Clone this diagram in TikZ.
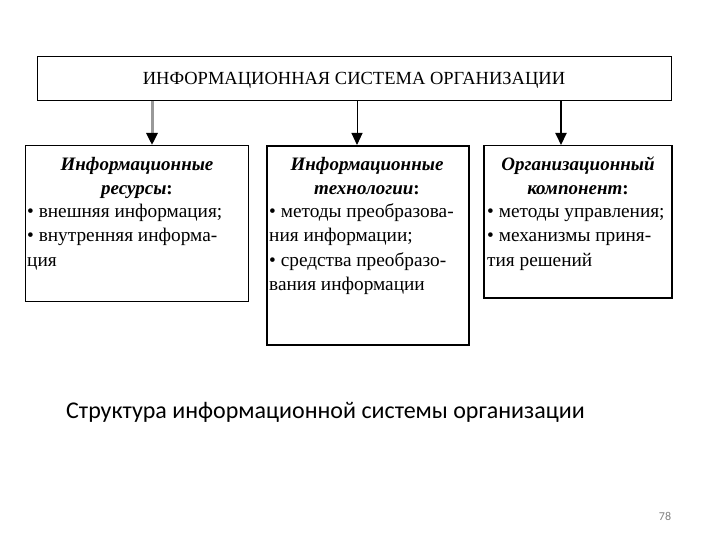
\documentclass[tikz,border=0pt]{standalone}
\usepackage{fontspec}
\setmainfont{Liberation Serif}
\newfontfamily\capfont{Carlito}
\usetikzlibrary{arrows.meta}
\newcommand\topstrut{\rule{0pt}{15pt}}
\begin{document}
\begin{tikzpicture}[x=1pt,y=-1pt,
  boxframe/.style={draw=black, line width=1pt},
  ttl/.style={font=\fontsize{19}{24}\selectfont\bfseries\itshape, align=center, inner sep=0pt, anchor=north},
  body/.style={font=\fontsize{19.3}{24.5}\selectfont, align=left, inner sep=0pt, anchor=north west},
  arr/.style={-{Triangle[width=11pt,length=12pt,color=black]}}
]
\useasboundingbox (0,0) rectangle (720,540);
% top box
\node[boxframe, minimum width=634pt, minimum height=44pt, inner sep=0pt] (top) at (354,79) {};
\node[font=\fontsize{18.5}{20}\selectfont, inner sep=0pt, anchor=base] (toptxt) at (354,85) {ИНФОРМАЦИОННАЯ СИСТЕМА ОРГАНИЗАЦИИ};
% box 1
\node[boxframe, minimum width=223pt, minimum height=156pt, inner sep=0pt, anchor=north west] (b1) at (25,145) {};
\node[ttl] (t1) at (137,155) {\topstrut Информационные\\ресурсы\textup{:}};
\node[body] (x1) at (27,202) {\topstrut• внешняя информация;\\• внутренняя информа-\\ция};
% box 2
\node[draw=black, line width=2pt, minimum width=202pt, minimum height=199pt, inner sep=0pt, anchor=north west] (b2) at (266,145) {};
\node[ttl] (t2) at (367,155) {\topstrut Информационные\\технологии\textup{:}};
\node[body] (x2) at (269,202) {\topstrut• методы преобразова-\\ния информации;\\• средства преобразо-\\вания информации};
% box 3
\node[draw=black, line width=1.5pt, minimum width=188pt, minimum height=152pt, inner sep=0pt, anchor=north west] (b3) at (483,145) {};
\node[ttl] (t3) at (578,155) {\topstrut Организационный\\компонент\textup{:}};
\node[body] (x3) at (487,202) {\topstrut• методы управления;\\• механизмы приня-\\тия решений};
% arrows
\coordinate (a1s) at (152,101);
\coordinate (a2s) at (357,101);
\coordinate (a3s) at (561,101);
\draw[arr, draw=gray!80, line width=3pt] (a1s) -- (a1s |- b1.north);
\draw[arr, line width=1pt] (a2s) -- (a2s |- b2.north);
\draw[arr, line width=2pt] (a3s) -- (a3s |- b3.north);
% caption
\node[font=\capfont\fontsize{24}{28}\selectfont, anchor=base west, inner sep=0pt] (cap) at (66,418) {Структура информационной системы организации};
\node[font=\capfont\fontsize{12}{14}\selectfont, text=gray, inner sep=0pt] (pg) at (665,516) {78};
\end{tikzpicture}
\end{document}
